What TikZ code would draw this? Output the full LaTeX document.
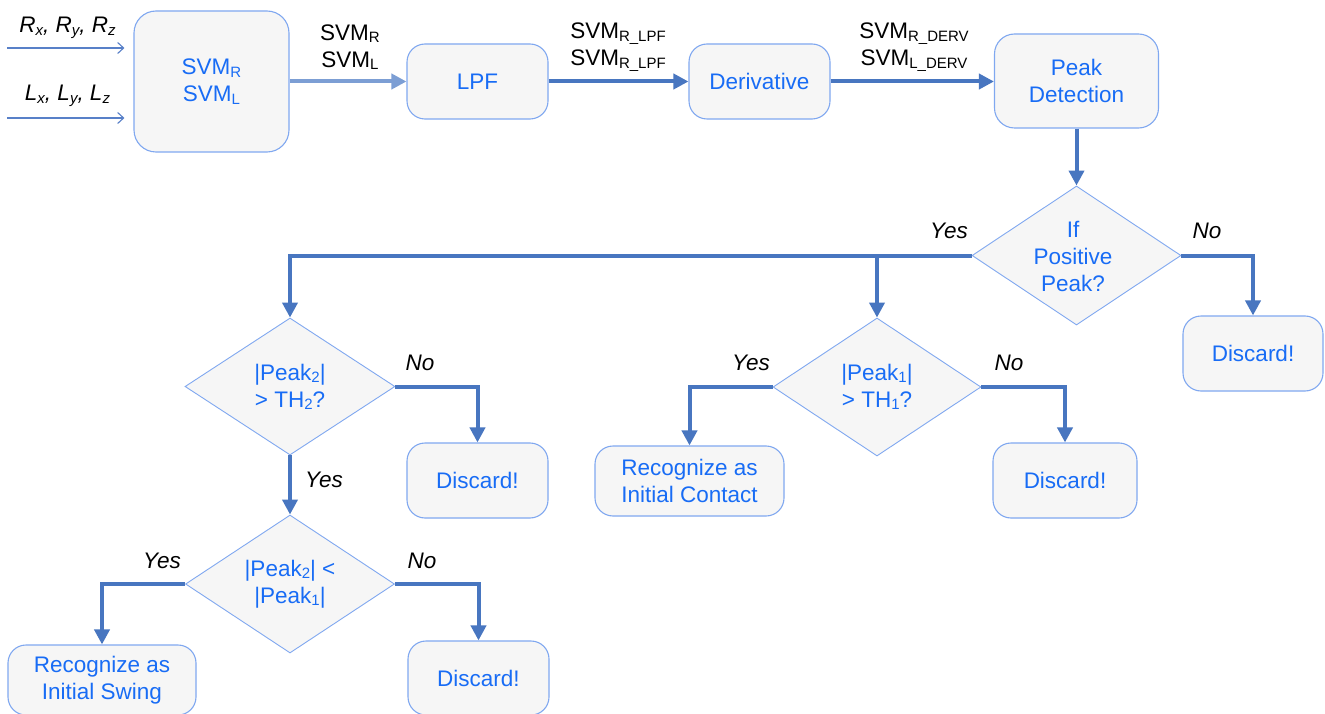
\documentclass[tikz,border=0pt]{standalone}
\usepackage{fontspec}
\setmainfont{Liberation Sans}
\usetikzlibrary{shapes.geometric,arrows.meta}

\definecolor{boxfill}{RGB}{246,246,246}
\definecolor{boxline}{RGB}{128,168,240}
\definecolor{boxtext}{RGB}{24,108,245}
\definecolor{flow}{RGB}{72,118,192}
\definecolor{flowlight}{RGB}{124,158,212}
\definecolor{inflow}{RGB}{88,128,200}

% lowered small text for indices
\newcommand\lo[1]{\raisebox{-2.5pt}{\fontsize{15}{15}\selectfont #1}}

\tikzset{
  base font/.style={font=\fontsize{22.5}{27}\selectfont},
  procbox/.style={base font, draw=boxline, line width=1.1pt, fill=boxfill,
    text=boxtext, align=center, inner sep=0pt, rounded corners=#1},
  procbox/.default=18pt,
  decision/.style={shape=diamond, draw=boxline, line width=0.9pt, fill=boxfill,
    inner sep=0pt},
  dtext/.style={base font, text=boxtext, align=center, inner sep=0pt},
  flowlabel/.style={base font, text=black, align=center, inner sep=0pt},
  answer/.style={base font, text=black, font=\fontsize{22.5}{27}\selectfont\itshape, inner sep=0pt},
  conn/.style={draw=flow, line width=4pt, -{Triangle[length=15pt,width=15pt]}},
  connlight/.style={draw=flowlight, line width=4pt, -{Triangle[length=15pt,width=15pt]}},
  inarrow/.style={draw=inflow, line width=1.1pt, -{Straight Barb[length=6pt,width=11pt]}},
}

\begin{document}
\begin{tikzpicture}[x=1pt,y=-1pt]
  \fill[white] (0,0) rectangle (1325,714);
  \useasboundingbox (0,0) rectangle (1325,714);

  % processing chain along the top
  \node[procbox=22pt, minimum width=155pt, minimum height=141pt] (svm) at (211.5,81.5)
    {SVM\lo{R}\\SVM\lo{L}};
  \node[procbox, minimum width=141pt, minimum height=75pt] (lpf) at (477.5,81.5) {LPF};
  \node[procbox, minimum width=141pt, minimum height=75pt] (der) at (759.5,81.5) {Derivative};
  \node[procbox=20pt, minimum width=164pt, minimum height=94pt] (peak) at (1076.5,81)
    {Peak\\Detection};

  % inputs
  \coordinate (rin) at (7,48);
  \coordinate (lin) at (7,118);
  \draw[inarrow, shorten >=9pt] (rin) -- (svm.west |- rin);
  \draw[inarrow, shorten >=9pt] (lin) -- (svm.west |- lin);
  \node[answer, anchor=base] (rlab) at (67.5,33) {R\lo{x}, R\lo{y}, R\lo{z}};
  \node[answer, anchor=base] (llab) at (67.5,101) {L\lo{x}, L\lo{y}, L\lo{z}};

  \draw[connlight] (svm.east |- lpf.west) -- (lpf.west);
  \draw[conn] (lpf.east) -- (der.west);
  \draw[conn] (der.east) -- (peak.west |- der.east);

  \node[flowlabel] (l1) at (350,47) {SVM\lo{R}\\SVM\lo{L}};
  \node[flowlabel] (l2) at (618,47) {SVM\lo{R\_LPF}\\SVM\lo{R\_LPF}};
  \node[flowlabel] (l3) at (914,47) {SVM\lo{R\_DERV}\\SVM\lo{L\_DERV}};

  % decisions
  \node[decision, minimum width=209pt, minimum height=139pt] (d1) at (1076.5,255.5) {};
  \node[dtext] (d1t) at (1073,256) {If\\Positive\\Peak?};

  \node[decision, minimum width=210pt, minimum height=137pt] (d2) at (290,386.5) {};
  \node[dtext] (d2t) at (290,387) {|Peak\lo{2}|\\> TH\lo{2}?};

  \node[decision, minimum width=208pt, minimum height=138pt] (d3) at (877,387) {};
  \node[dtext] (d3t) at (877,387) {|Peak\lo{1}|\\> TH\lo{1}?};

  \node[decision, minimum width=209pt, minimum height=138pt] (d4) at (290,584) {};
  \node[dtext] (d4t) at (290,584) {|Peak\lo{2}| <\\|Peak\lo{1}|};

  % outcomes
  \node[procbox, minimum width=140pt, minimum height=75pt] (disc1) at (1253,353.5) {Discard!};
  \node[procbox, minimum width=141pt, minimum height=75pt] (disc2) at (477.5,480.5) {Discard!};
  \node[procbox, minimum width=189pt, minimum height=70pt] (rec1) at (689.5,481)
    {Recognize as\\Initial Contact};
  \node[procbox, minimum width=144pt, minimum height=75pt] (disc3) at (1065,480.5) {Discard!};
  \node[procbox, minimum width=188pt, minimum height=70pt] (rec2) at (102,680)
    {Recognize as\\Initial Swing};
  \node[procbox, minimum width=141pt, minimum height=74pt] (disc4) at (478.5,678) {Discard!};

  % flow between decisions
  \draw[conn] (peak.south) -- (d1.north);
  \draw[conn] (d1.west) -| (d2.north);
  \draw[conn] (d3.north |- d1.west) -- (d3.north);
  \draw[conn] (d1.east) -| (disc1.north);
  \draw[conn] (d2.east) -| (disc2.north);
  \draw[conn] (d2.south) -- (d4.north);
  \draw[conn] (d3.west) -| (rec1.north);
  \draw[conn] (d3.east) -| (disc3.north);
  \draw[conn] (d4.west) -| (rec2.north);
  \draw[conn] (d4.east) -| (disc4.north);

  % branch labels
  \node[answer] (y1) at (949,231) {Yes};
  \node[answer] (n1) at (1207,231) {No};
  \node[answer] (n2) at (420,363) {No};
  \node[answer] (y2) at (324,480) {Yes};
  \node[answer] (y3) at (751,363) {Yes};
  \node[answer] (n3) at (1009,363) {No};
  \node[answer] (y4) at (162,561) {Yes};
  \node[answer] (n4) at (422,561) {No};
\end{tikzpicture}
\end{document}
